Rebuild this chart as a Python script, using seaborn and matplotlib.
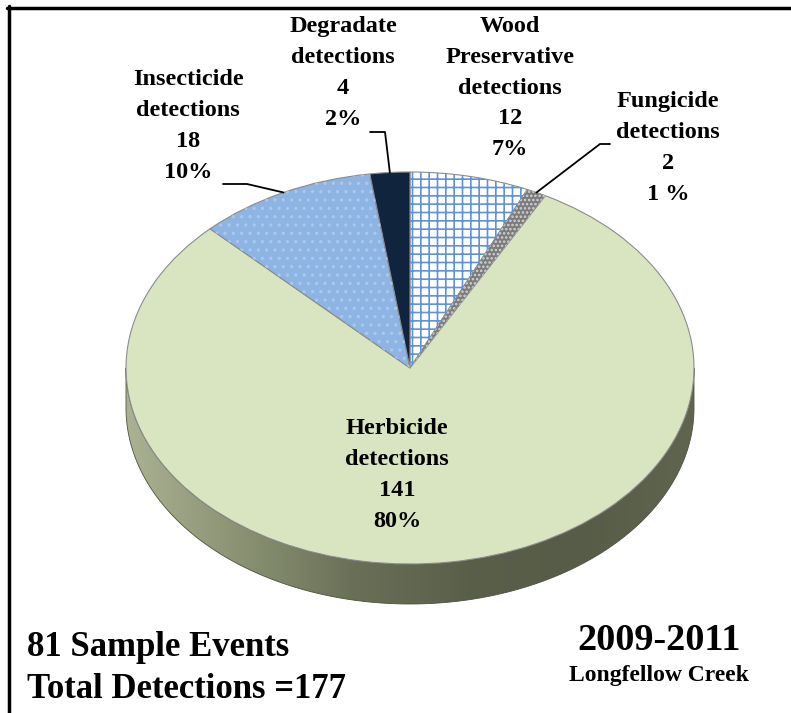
import numpy as np
import matplotlib
matplotlib.use("Agg")
import matplotlib.pyplot as plt
from matplotlib.colors import LinearSegmentedColormap
from matplotlib.patches import Polygon
from matplotlib.lines import Line2D
import seaborn as sns

# data, clockwise from 12 o'clock
categories = ["Wood\nPreservative", "Fungicide", "Herbicide", "Insecticide", "Degradate"]
counts = [12, 2, 141, 18, 4]
pct_labels = ["7%", "1 %", "80%", "10%", "2%"]
sample_events = 81
period = "2009-2011"
site = "Longfellow Creek"

colors = ["#ffffff", "#7b7b7b", "#d9e5c0", "#8db4e2", "#10243e"]
hatches = ["++", "....", None, "..", None]
hatch_colors = ["#5f93d8", "#d4d4d4", "none", "#aac7ed", "none"]

sns.set_theme(style="white")
plt.rcParams["font.family"] = ["Liberation Serif", "DejaVu Serif"]
plt.rcParams["text.color"] = "black"
plt.rcParams["hatch.linewidth"] = 1.2

W, H = 791, 713
fig = plt.figure(figsize=(W / 100, H / 100), dpi=100)
ax = fig.add_axes([0, 0, 1, 1])

# pie ellipse: centre (410, 368) px, radii 284 x 196 px, side depth 40 px
cx, cy, rx, ry, depth_px = 410, 368, 284, 196, 40
depth = depth_px / ry

# side of the 3d disc
t = np.linspace(np.pi, 2 * np.pi, 200)
side = np.concatenate([np.column_stack([np.cos(t), np.sin(t)]),
                       np.column_stack([np.cos(t[::-1]), np.sin(t[::-1]) - depth])])
side_patch = Polygon(side, closed=True, facecolor="none", edgecolor="#4d5240", lw=0.6, zorder=2)
ax.add_patch(side_patch)
side_cmap = LinearSegmentedColormap.from_list(
    "side", ["#aab293", "#8a9273", "#6a7057", "#5a5f4a", "#575c48", "#60654f"])
grad = np.linspace(0, 1, 256).reshape(1, -1)
im = ax.imshow(grad, cmap=side_cmap, extent=[-1, 1, -1 - depth, 0], aspect="auto", zorder=1)
im.set_clip_path(side_patch)

# top face
wedges, _ = ax.pie(counts, colors=colors, startangle=90, counterclock=False,
                   wedgeprops=dict(edgecolor="#8c8c8c", linewidth=0.8))
for w in wedges:
    w.set_zorder(3)
over, _ = ax.pie(counts, colors=["none"] * len(counts), startangle=90, counterclock=False,
                 wedgeprops=dict(linewidth=0))
for w, h, hc in zip(over, hatches, hatch_colors):
    w.set_zorder(4)
    if h is None:
        w.set_visible(False)
    else:
        w.set_edgecolor(hc)
        w.set_hatch(h)
        w.set_linewidth(0)

ax.set_aspect("auto")
ax.set_xlim(-cx / rx, (W - cx) / rx)
ax.set_ylim((cy - H) / ry, cy / ry)
ax.axis("off")


def to_data(x, y):
    return ax.transData.inverted().transform((x, H - y))


# labels (pixel positions of label centres)
label_pos = [(510, 88), (668, 148), (397, 475), (188, 126), (343, 73)]
for name, n, pct, (lx, ly) in zip(categories, counts, pct_labels, label_pos):
    fig.text(lx / W, 1 - ly / H, f"{name}\ndetections\n{n}\n{pct}",
             ha="center", va="center", fontsize=17.5, fontweight="bold",
             linespacing=1.62, color="black")

# leader lines: elbow points in px, end on the slice rim
leaders = {3: [(223, 184), (247, 184)], 4: [(370, 132), (385, 132)], 1: [(610, 144), (600, 144)]}
for i, pts in leaders.items():
    w = wedges[i]
    mid = np.deg2rad((w.theta1 + w.theta2) / 2)
    rim = (np.cos(mid), np.sin(mid))
    xy = [to_data(*p) for p in pts] + [rim]
    xs, ys = zip(*xy)
    ax.plot(xs, ys, color="black", lw=1.3, zorder=5)

fig.text(27 / W, 1 - 647 / H, f"{sample_events} Sample Events", ha="left", va="center",
         fontsize=25, fontweight="bold")
fig.text(27 / W, 1 - 690 / H, f"Total Detections ={sum(counts)}", ha="left", va="center",
         fontsize=25, fontweight="bold")
fig.text(659 / W, 1 - 640 / H, period, ha="center", va="center", fontsize=27.5, fontweight="bold")
fig.text(659 / W, 1 - 676 / H, site, ha="center", va="center", fontsize=17, fontweight="bold")

# frame (cropped on right and bottom)
fig.add_artist(Line2D([8.5 / W, 8.5 / W], [0, 1 - 6 / H], color="black", lw=2.5,
                      transform=fig.transFigure))
fig.add_artist(Line2D([7 / W, 1], [1 - 7.5 / H, 1 - 7.5 / H], color="black", lw=2.5,
                      transform=fig.transFigure))

fig.savefig("out.png", dpi=100, facecolor="white")
